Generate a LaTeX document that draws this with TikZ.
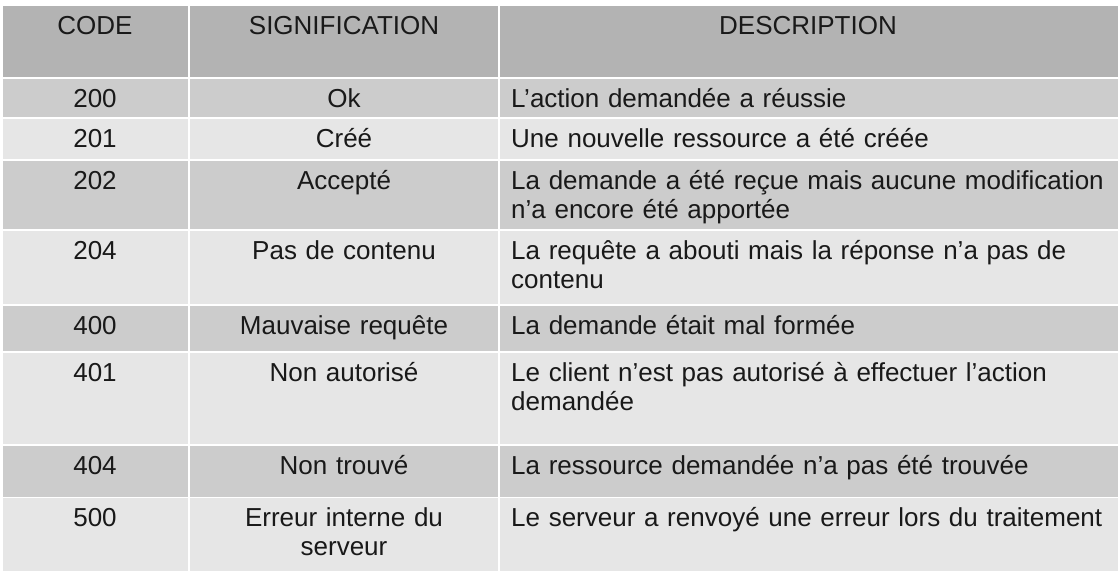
\documentclass[tikz,border=0pt]{standalone}
\usepackage{fontspec}
\setmainfont{Liberation Sans}
\definecolor{entete}{HTML}{B3B3B3}
\definecolor{fonce}{HTML}{CCCCCC}
\definecolor{clair}{HTML}{E6E6E6}
\begin{document}
\begin{tikzpicture}[x=1pt, y=-1pt,
  cell/.style={draw=white, line width=1.4pt},
  txt/.style={font=\fontsize{26}{29.4}\selectfont, text=black!90, inner sep=0pt, anchor=base},
  sig/.style={txt, text width=300pt, align=center},
  desc/.style={txt, anchor=base west, text width=600pt, align=left}]
\useasboundingbox[fill=white] (0,0) rectangle (1118,570);
% en-tete
\filldraw[cell, fill=entete] (2,5) rectangle (189,78);
\filldraw[cell, fill=entete] (189,5) rectangle (499,78);
\filldraw[cell, fill=entete] (499,5) rectangle (1121,78);
\node[txt] (hcode) at (95,34) {CODE};
\node[sig] (hsig) at (344,34) {SIGNIFICATION};
\node[txt] (hdesc) at (808,34) {DESCRIPTION};
% 200
\filldraw[cell, fill=fonce] (2,78) rectangle (189,118);
\filldraw[cell, fill=fonce] (189,78) rectangle (499,118);
\filldraw[cell, fill=fonce] (499,78) rectangle (1121,118);
\node[txt] (c200) at (95,107.5) {200};
\node[sig] (s200) at (344,107.5) {Ok};
\node[desc] (d200) at (511,107.5) {L’action demandée a réussie};
% 201
\filldraw[cell, fill=clair] (2,118) rectangle (189,160);
\filldraw[cell, fill=clair] (189,118) rectangle (499,160);
\filldraw[cell, fill=clair] (499,118) rectangle (1121,160);
\node[txt] (c201) at (95,147.5) {201};
\node[sig] (s201) at (344,147.5) {Créé};
\node[desc] (d201) at (511,147.5) {Une nouvelle ressource a été créée};
% 202
\filldraw[cell, fill=fonce] (2,160) rectangle (189,230);
\filldraw[cell, fill=fonce] (189,160) rectangle (499,230);
\filldraw[cell, fill=fonce] (499,160) rectangle (1121,230);
\node[txt] (c202) at (95,189.5) {202};
\node[sig] (s202) at (344,189.5) {Accepté};
\node[desc] (d202) at (511,189.5) {La demande a été reçue mais aucune modification\\n’a encore été apportée};
% 204
\filldraw[cell, fill=clair] (2,230) rectangle (189,305);
\filldraw[cell, fill=clair] (189,230) rectangle (499,305);
\filldraw[cell, fill=clair] (499,230) rectangle (1121,305);
\node[txt] (c204) at (95,259.5) {204};
\node[sig] (s204) at (344,259.5) {Pas de contenu};
\node[desc] (d204) at (511,259.5) {La requête a abouti mais la réponse n’a pas de\\contenu};
% 400
\filldraw[cell, fill=fonce] (2,305) rectangle (189,352);
\filldraw[cell, fill=fonce] (189,305) rectangle (499,352);
\filldraw[cell, fill=fonce] (499,305) rectangle (1121,352);
\node[txt] (c400) at (95,334.5) {400};
\node[sig] (s400) at (344,334.5) {Mauvaise requête};
\node[desc] (d400) at (511,334.5) {La demande était mal formée};
% 401
\filldraw[cell, fill=clair] (2,352) rectangle (189,445);
\filldraw[cell, fill=clair] (189,352) rectangle (499,445);
\filldraw[cell, fill=clair] (499,352) rectangle (1121,445);
\node[txt] (c401) at (95,381.5) {401};
\node[sig] (s401) at (344,381.5) {Non autorisé};
\node[desc] (d401) at (511,381.5) {Le client n’est pas autorisé à effectuer l’action\\demandée};
% 404
\filldraw[cell, fill=fonce] (2,445) rectangle (189,497.5);
\filldraw[cell, fill=fonce] (189,445) rectangle (499,497.5);
\filldraw[cell, fill=fonce] (499,445) rectangle (1121,497.5);
\node[txt] (c404) at (95,474.5) {404};
\node[sig] (s404) at (344,474.5) {Non trouvé};
\node[desc] (d404) at (511,474.5) {La ressource demandée n’a pas été trouvée};
% 500
\filldraw[cell, fill=clair] (2,497.5) rectangle (189,573);
\filldraw[cell, fill=clair] (189,497.5) rectangle (499,573);
\filldraw[cell, fill=clair] (499,497.5) rectangle (1121,573);
\node[txt] (c500) at (95,526.5) {500};
\node[sig] (s500) at (344,526.5) {Erreur interne du\\serveur};
\node[desc] (d500) at (511,526.5) {Le serveur a renvoyé une erreur lors du traitement};
\end{tikzpicture}
\end{document}
